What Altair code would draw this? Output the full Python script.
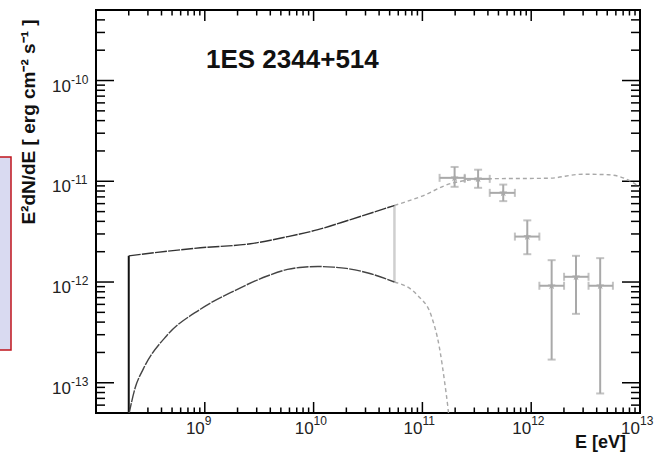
import altair as alt
import pandas as pd

# ---- SED of 1ES 2344+514: log10 E [eV] and log10 E^2 dN/dE [erg cm^-2 s^-1] ----
# model, intrinsic (upper) branch: solid part, then dashed extrapolation
upper_solid_logE = [8.301, 8.96, 9.42, 9.76, 10.04, 10.34, 10.743]
upper_solid_logF = [-11.74, -11.66, -11.62, -11.55, -11.48, -11.38, -11.24]
upper_dash_logE = [10.743, 10.99, 11.27, 11.60, 12.16, 12.47, 12.71, 12.96, 13.0]
upper_dash_logF = [-11.24, -11.15, -11.02, -10.975, -10.97, -10.93, -10.935, -11.03, -11.06]

# model, absorbed (lower) branch
lower_solid_logE = [8.301, 8.36, 8.436, 8.652, 8.959, 9.266, 9.574, 9.76, 9.9, 10.04, 10.18, 10.30, 10.50, 10.743]
lower_solid_logF = [-13.32, -13.05, -12.86, -12.53, -12.27, -12.09, -11.94, -11.875, -11.853, -11.846,
                    -11.852, -11.865, -11.91, -12.0]
lower_dash_logE = [10.743, 10.958, 11.081, 11.158, 11.204, 11.235, 11.25]
lower_dash_logF = [-12.0, -12.135, -12.333, -12.66, -12.99, -13.25, -13.4]

# vertical markers: start of the model and the band joining both branches
start_logE = 8.301
start_logF = [-13.30, -11.74]
band_logE = 10.743
band_logF = [-12.0, -11.24]

# measured spectrum
pt_logE = [11.296, 11.512, 11.743, 11.964, 12.188, 12.412, 12.634]
pt_logE_lo = [11.158, 11.389, 11.619, 11.850, 12.075, 12.302, 12.527]
pt_logE_hi = [11.389, 11.619, 11.850, 12.075, 12.302, 12.527, 12.751]
pt_logF = [-10.966, -10.976, -11.115, -11.549, -12.037, -11.948, -12.037]
pt_logF_lo = [-11.055, -11.065, -11.197, -11.724, -12.770, -12.316, -13.106]
pt_logF_hi = [-10.858, -10.885, -11.033, -11.388, -11.783, -11.740, -11.763]

# axis ranges and tick decades
x_range = [1e8, 1e13]
y_range = [10 ** -13.30, 10 ** -9.30]
x_label_exps = [9, 10, 11, 12, 13]
y_label_exps = [-10, -11, -12, -13]

W, H = 544, 403
FONT = "Liberation Sans"

xs = alt.Scale(type="log", domain=x_range, nice=False)
ys = alt.Scale(type="log", domain=y_range, nice=False)


def X(field):
    return alt.X(field, scale=xs, axis=None)


def Y(field):
    return alt.Y(field, scale=ys, axis=None)


def p(v):
    return [10 ** a for a in v]


def curve(logE, logF, color, dash, width=1.4):
    df = pd.DataFrame({"E": p(logE), "F": p(logF)})
    return alt.Chart(df).mark_line(
        color=color, strokeDash=dash, strokeWidth=width, interpolate="monotone", clip=True
    ).encode(x=X("E:Q"), y=Y("F:Q"))


up_solid = curve(upper_solid_logE, upper_solid_logF, "#333333", [12, 1.2])
up_dash = curve(upper_dash_logE, upper_dash_logF, "#a8a8a8", [4, 3])
lo_solid = curve(lower_solid_logE, lower_solid_logF, "#444444", [12, 1.2])
lo_dash = curve(lower_dash_logE, lower_dash_logF, "#a8a8a8", [4, 3])

start_df = pd.DataFrame({"E": [10 ** start_logE], "F1": [10 ** start_logF[0]], "F2": [10 ** start_logF[1]]})
start_rule = alt.Chart(start_df).mark_rule(color="#111", strokeWidth=2).encode(
    x=X("E:Q"), y=Y("F1:Q"), y2="F2:Q")
band_df = pd.DataFrame({"E": [10 ** band_logE], "F1": [10 ** band_logF[0]], "F2": [10 ** band_logF[1]]})
band_rule = alt.Chart(band_df).mark_rule(color="#cfcfcf", strokeWidth=2.5).encode(
    x=X("E:Q"), y=Y("F1:Q"), y2="F2:Q")

pts = pd.DataFrame({
    "E": p(pt_logE), "Elo": p(pt_logE_lo), "Ehi": p(pt_logE_hi),
    "F": p(pt_logF), "Flo": p(pt_logF_lo), "Fhi": p(pt_logF_hi),
})
ERR = "#a9a9a9"
xerr = alt.Chart(pts).mark_rule(color=ERR, strokeWidth=2).encode(
    x=X("Elo:Q"), x2="Ehi:Q", y=Y("F:Q"))
yerr = alt.Chart(pts).mark_rule(color=ERR, strokeWidth=2).encode(
    x=X("E:Q"), y=Y("Flo:Q"), y2="Fhi:Q")
cap_xlo = alt.Chart(pts).mark_tick(color=ERR, thickness=2, size=8, orient="vertical").encode(
    x=X("Elo:Q"), y=Y("F:Q"))
cap_xhi = alt.Chart(pts).mark_tick(color=ERR, thickness=2, size=8, orient="vertical").encode(
    x=X("Ehi:Q"), y=Y("F:Q"))
cap_ylo = alt.Chart(pts).mark_tick(color=ERR, thickness=2, size=8, orient="horizontal").encode(
    x=X("E:Q"), y=Y("Flo:Q"))
cap_yhi = alt.Chart(pts).mark_tick(color=ERR, thickness=2, size=8, orient="horizontal").encode(
    x=X("E:Q"), y=Y("Fhi:Q"))
STAR = ("M0,-1L0.2245,-0.309L0.951,-0.309L0.363,0.118L0.588,0.809L0,0.382"
        "L-0.588,0.809L-0.363,0.118L-0.951,-0.309L-0.2245,-0.309Z")
markers = alt.Chart(pts).mark_point(shape=STAR, filled=True, color=ERR, size=70, opacity=1).encode(
    x=X("E:Q"), y=Y("F:Q"))

# ---- frame ticks (ROOT style: inward on all four sides) ----
xt_major, xt_minor = [], []
for d in range(8, 13):
    for m in range(1, 10):
        v = m * 10.0 ** d
        if x_range[0] < v < x_range[1]:
            (xt_major if m == 1 else xt_minor).append(v)
yt_major, yt_minor = [], []
for d in range(-14, -9):
    for m in range(1, 10):
        v = m * 10.0 ** d
        if y_range[0] < v < y_range[1]:
            (yt_major if m == 1 else yt_minor).append(v)


def xticks(vals, y0, y1):
    return alt.Chart(pd.DataFrame({"v": vals})).mark_rule(color="#000", strokeWidth=1.5).encode(
        x=X("v:Q"), y=alt.value(y0), y2=alt.value(y1))


def yticks(vals, x0, x1):
    return alt.Chart(pd.DataFrame({"v": vals})).mark_rule(color="#000", strokeWidth=1.5).encode(
        y=Y("v:Q"), x=alt.value(x0), x2=alt.value(x1))


ticks = [
    xticks(xt_major, H, H - 11), xticks(xt_minor, H, H - 5.5),
    xticks(xt_major, 0, 11), xticks(xt_minor, 0, 5.5),
    yticks(yt_major, 0, 18), yticks(yt_minor, 0, 9),
    yticks(yt_major, W, W - 18), yticks(yt_minor, W, W - 9),
]

# ---- tick labels as 10 with a raised exponent ----
xl = pd.DataFrame({"v": [10.0 ** e for e in x_label_exps], "base": "10", "exp": [str(e) for e in x_label_exps]})
yl = pd.DataFrame({"v": [10.0 ** e for e in y_label_exps], "base": "10", "exp": [str(e) for e in y_label_exps]})
LABEL_C = "#222"
x_base = alt.Chart(xl).mark_text(font=FONT, fontSize=17, align="right", baseline="top", color=LABEL_C).encode(
    x=X("v:Q"), y=alt.value(H + 8), text="base:N")
x_exp = alt.Chart(xl).mark_text(font=FONT, fontSize=12, align="left", baseline="top", color=LABEL_C).encode(
    x=X("v:Q"), y=alt.value(H + 3), text="exp:N")
y_base = alt.Chart(yl).mark_text(font=FONT, fontSize=17, align="right", baseline="top", dy=-2,
                                 color=LABEL_C).encode(
    y=Y("v:Q"), x=alt.value(-25), text="base:N")
y_exp = alt.Chart(yl).mark_text(font=FONT, fontSize=12, align="left", baseline="top", dy=-6,
                                color=LABEL_C).encode(
    y=Y("v:Q"), x=alt.value(-25), text="exp:N")

y_title = alt.Chart(pd.DataFrame({"t": ["E²dN/dE [ erg cm⁻² s⁻¹ ]"]})).mark_text(
    font=FONT, fontSize=19, fontWeight="bold", angle=270, align="center", baseline="middle", color="#111"
).encode(x=alt.value(-67), y=alt.value(112), text="t:N")
x_title = alt.Chart(pd.DataFrame({"t": ["E [eV]"]})).mark_text(
    font=FONT, fontSize=18, fontWeight="bold", align="right", baseline="alphabetic", color="#111"
).encode(x=alt.value(530), y=alt.value(438), text="t:N")
source = alt.Chart(pd.DataFrame({"t": ["1ES 2344+514"]})).mark_text(
    font=FONT, fontSize=26, fontWeight="bold", align="left", baseline="alphabetic", color="#111"
).encode(x=alt.value(110), y=alt.value(58), text="t:N")

# side note box at the left edge of the page
note_box = alt.Chart(pd.DataFrame({"a": [0]})).mark_rect(
    fill="#d9daf1", stroke="#c0141c", strokeWidth=1.5
).encode(x=alt.value(-98), x2=alt.value(-85), y=alt.value(147), y2=alt.value(340))

chart = alt.layer(
    note_box,
    *ticks,
    start_rule, band_rule,
    up_dash, lo_dash, up_solid, lo_solid,
    xerr, yerr, cap_xlo, cap_xhi, cap_ylo, cap_yhi, markers,
    x_base, x_exp, y_base, y_exp, y_title, x_title, source,
).properties(
    width=W, height=H,
    autosize=alt.AutoSizeParams(type="none"),
    padding={"left": 96, "top": 10, "right": 15, "bottom": 44},
    background="#ffffff",
).configure_view(stroke="#000", strokeWidth=2)

chart.save("out.html", embed_options={"renderer": "svg", "actions": False})
